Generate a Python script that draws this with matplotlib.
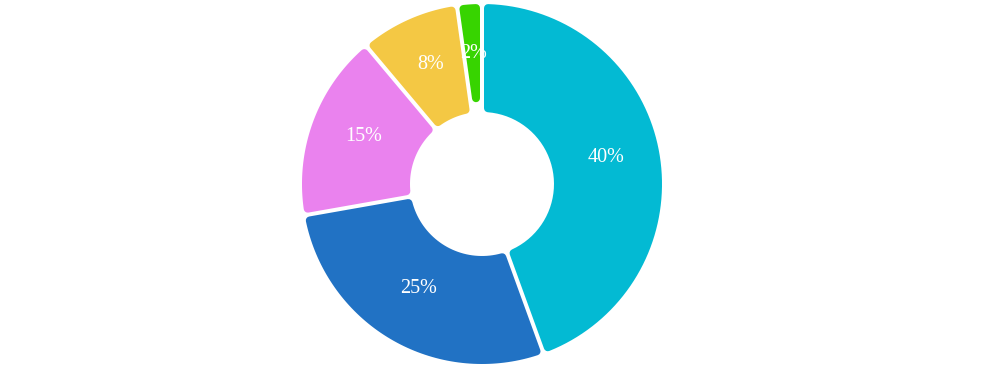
import numpy as np
import matplotlib
matplotlib.use("Agg")
import matplotlib.pyplot as plt
from matplotlib.patches import Polygon

labels = ["40%", "25%", "15%", "8%", "2%"]
values = [40, 25, 15, 8, 2]
colors = ["#03BAD3", "#2172C4", "#EA82EE", "#F4C844", "#37D400"]

W, H = 990, 374
cx, cy = 482, 184      # centre in pixels
R_out, R_in = 180, 72
gap = 2.0              # half gap between slices
rad = 4.0              # corner rounding


def xy(theta, rho):
    # theta clockwise from top, in radians
    return cx + rho * np.sin(theta), cy - rho * np.cos(theta)


def slice_poly(a1, a2):
    d = gap + rad
    ro, ri = R_out - rad, R_in + rad
    half = (a2 - a1) / 2
    o1, o2 = a1 + np.arcsin(d / ro), a2 - np.arcsin(d / ro)
    t = np.linspace(o1, o2, 80)
    pts = [xy(a, ro) for a in t]
    if np.arcsin(min(d / ri, 1)) < half:
        i1, i2 = a1 + np.arcsin(d / ri), a2 - np.arcsin(d / ri)
        t = np.linspace(i2, i1, 40)
        pts += [xy(a, ri) for a in t]
    else:
        # offset edges meet before reaching the hole
        pts.append(xy(a1 + half, d / np.sin(half)))
    return np.array(pts)


fig = plt.figure(figsize=(W / 100, H / 100), dpi=100)
ax = fig.add_axes([0, 0, 1, 1])
ax.set_xlim(0, W)
ax.set_ylim(H, 0)
ax.axis("off")

total = sum(values)
start = 0.0
lw = 2 * rad * 72 / 100
for lab, v, c in zip(labels, values, colors):
    span = v / total * 2 * np.pi
    poly = Polygon(slice_poly(start, start + span), closed=True,
                   facecolor=c, edgecolor=c, linewidth=lw, joinstyle="round")
    ax.add_patch(poly)
    mx, my = xy(start + span / 2, (R_out + R_in) / 2)
    ax.text(mx, my, lab, color="white", fontsize=14.5, ha="center", va="baseline",
            family=["Liberation Serif", "DejaVu Serif"])
    start += span

fig.savefig("out.png", dpi=100)
